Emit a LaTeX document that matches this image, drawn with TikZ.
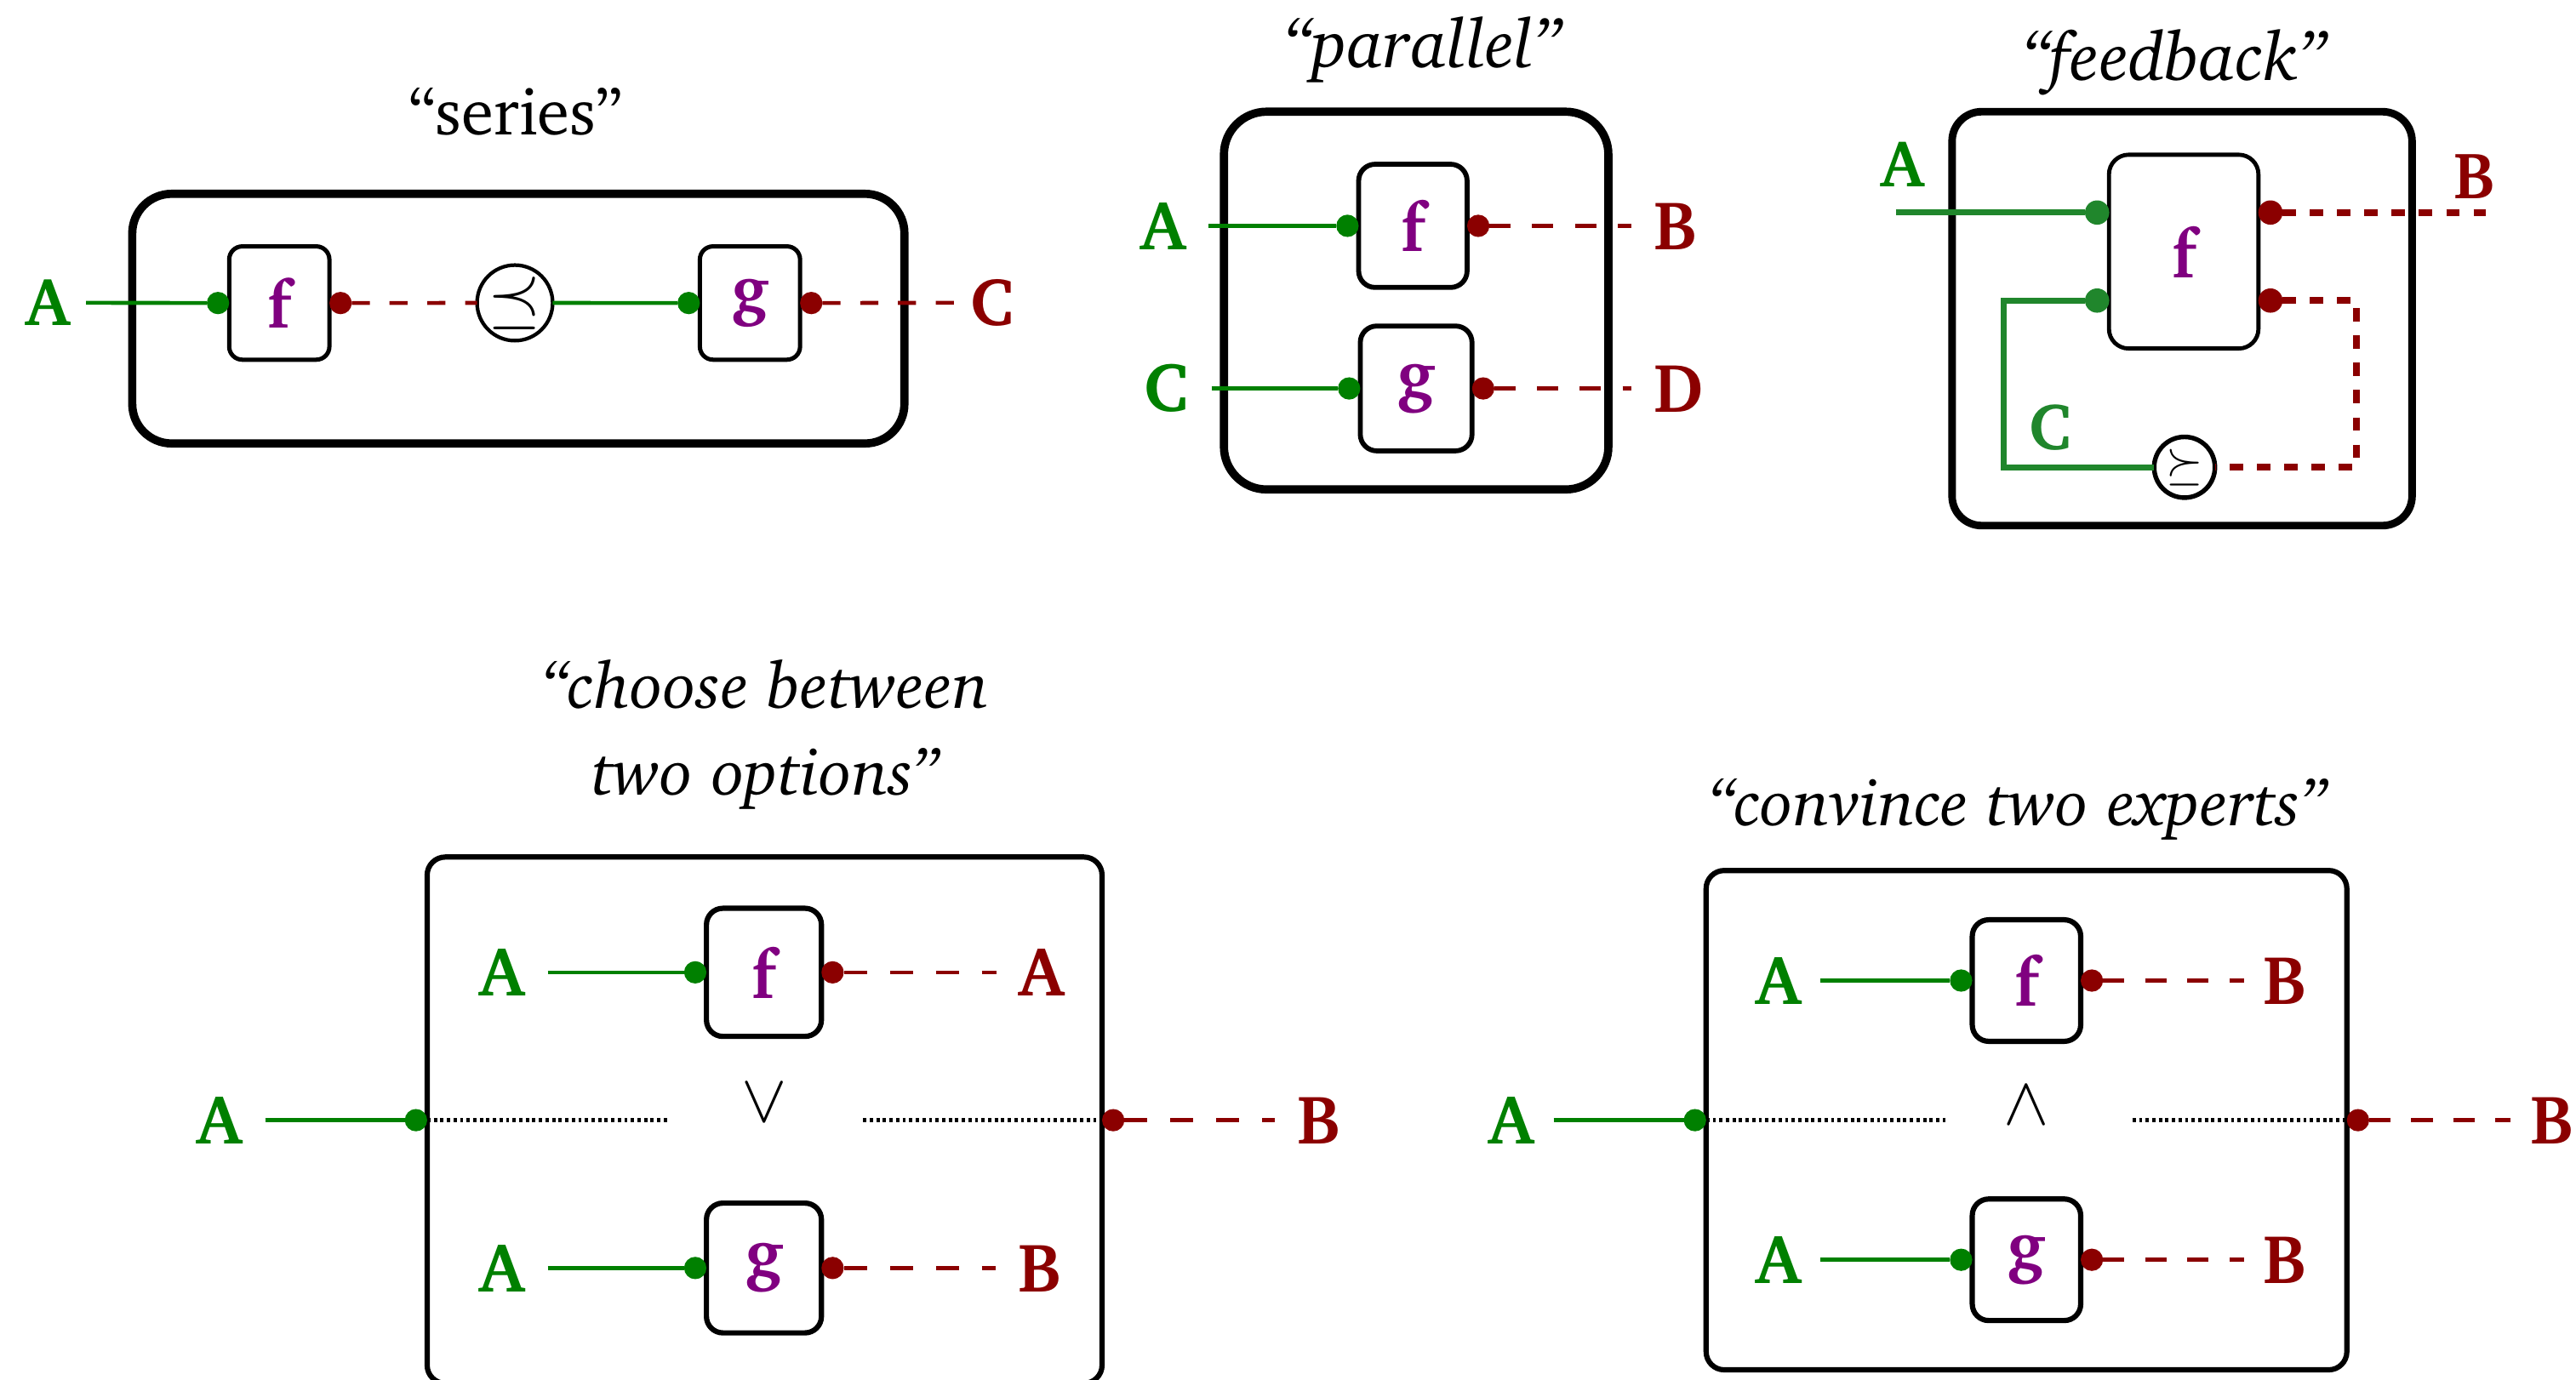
\documentclass[tikz,border=0pt]{standalone}
\usepackage[T1]{fontenc}
\usepackage{charter}
\usetikzlibrary{calc}

\definecolor{wgreen}{RGB}{0,128,0}
\definecolor{fgreen}{RGB}{32,134,44}
\definecolor{wred}{RGB}{139,0,0}
\definecolor{fpurple}{RGB}{128,0,128}

\tikzset{
  every node/.style={inner sep=0pt, outer sep=0pt},
  ttl/.style={font=\fontsize{20}{26.5}\selectfont\itshape},
  lab/.style={font=\fontsize{21}{25}\selectfont\bfseries, inner sep=5pt},
  glab/.style={lab, text=wgreen},
  rlab/.style={lab, text=wred},
  fnbox/.style={draw, line width=1.3pt, rounded corners=4pt, text=fpurple,
    font=\fontsize{21}{25}\selectfont\bfseries},
  outerbox/.style={draw, line width=2.5pt, rounded corners=12pt},
  gdot/.style={circle, fill=wgreen, minimum size=6.8pt},
  rdot/.style={circle, fill=wred, minimum size=6.8pt},
  gwire/.style={draw=wgreen, line width=1.2pt},
  rwire/.style={draw=wred, line width=1.2pt, dash pattern=on 5.5pt off 6pt},
  orwire/.style={draw=black, line width=1.2pt, dash pattern=on 1pt off 1pt},
  opcirc/.style={circle, draw, line width=1.1pt, inner sep=0pt},
}

\begin{document}
\begin{tikzpicture}[x=0.5pt, y=-0.5pt]
\useasboundingbox (0,0) rectangle (1568,840);

% ---------------- series ----------------
\node[font=\fontsize{20}{24}\selectfont] (St) at (314,68) {``series''};
\node[outerbox, minimum width=235pt, minimum height=76pt] (S) at (315.5,194) {};
\node[fnbox, minimum width=30.5pt, minimum height=34.5pt, font=\fontsize{20.5}{24}\selectfont\bfseries] (Sf) at (170,184.5) {f};
\node[fnbox, minimum width=30.5pt, minimum height=34.5pt, font=\fontsize{20.5}{24}\selectfont\bfseries] (Sg) at (456.5,184.5) {g};
\node[opcirc, minimum size=23pt, font=\fontsize{21}{21}\selectfont] (Sop) at (313.4,184.4) {$\preceq$};
\node[glab, font=\fontsize{20.5}{24}\selectfont\bfseries] (SA) at (29,184.3) {A};
\node[rlab, font=\fontsize{20.5}{24}\selectfont\bfseries] (SC) at (604,184.3) {C};
\node[gdot, anchor=east] (Sfi) at (Sf.west) {};
\node[rdot, anchor=west] (Sfo) at (Sf.east) {};
\node[gdot, anchor=east] (Sgi) at (Sg.west) {};
\node[rdot, anchor=west] (Sgo) at (Sg.east) {};
\draw[gwire] (SA) -- (Sfi);
\draw[rwire] (Sfo) -- (Sop);
\draw[gwire] (Sop) -- (Sgi);
\draw[rwire] (Sgo) -- (SC);

% ---------------- parallel ----------------
\begin{scope}[lab/.append style={inner sep=7pt},
  gwire/.append style={line width=1.5pt},
  rwire/.append style={line width=1.5pt, dash pattern=on 6.5pt off 6.5pt}]
\node[ttl, font=\fontsize{21}{26}\selectfont\itshape] (Pt) at (866,30) {``parallel''};
\node[outerbox, rounded corners=13pt, minimum width=117pt, minimum height=115pt] (P) at (862,183) {};
\node[fnbox, line width=1.5pt, rounded corners=5pt, minimum width=33pt, minimum height=37.5pt] (Pf) at (860,137.5) {f};
\node[fnbox, line width=1.5pt, rounded corners=5pt, minimum width=34pt, minimum height=38pt] (Pg) at (862,236.5) {g};
\node[glab] (PA) at (708,137.5) {A};
\node[glab] (PC) at (710,236.5) {C};
\node[rlab] (PB) at (1020,137.5) {B};
\node[rlab] (PD) at (1022,236.5) {D};
\node[gdot, anchor=east] (Pfi) at (Pf.west) {};
\node[rdot, anchor=west] (Pfo) at (Pf.east) {};
\node[gdot, anchor=east] (Pgi) at (Pg.west) {};
\node[rdot, anchor=west] (Pgo) at (Pg.east) {};
\draw[gwire] (PA) -- (Pfi);
\draw[rwire] (Pfo) -- (PB);
\draw[gwire] (PC) -- (Pgi);
\draw[rwire] (Pgo) -- (PD);
\end{scope}

% ---------------- feedback ----------------
\begin{scope}[gwire/.append style={draw=fgreen, line width=1.9pt},
  rwire/.append style={line width=2pt, dash pattern=on 4pt off 4.3pt},
  gdot/.append style={fill=fgreen, minimum size=7.4pt},
  rdot/.append style={minimum size=7.4pt}]
\node[ttl, font=\fontsize{21}{26}\selectfont\itshape] (Ft) at (1323.5,38) {``feedback''};
\node[outerbox, line width=2.3pt, rounded corners=9pt, minimum width=140pt, minimum height=126pt] (F) at (1328.2,194) {};
\node[fnbox, line width=1.25pt, rounded corners=6pt, minimum width=45.5pt, minimum height=59pt] (Ff) at (1329.2,153.2) {f};
\node[opcirc, line width=1.4pt, minimum size=18.5pt, font=\fontsize{14.5}{14.5}\selectfont] (Fop) at (1329.7,284.5) {$\succeq$};
\node[gdot] (Fi1) at (1276.5,129.4) {};
\node[gdot] (Fi2) at (1276.5,183) {};
\node[rdot] (Fo1) at (1382,129.4) {};
\node[rdot] (Fo2) at (1382,183) {};
\node[glab, font=\fontsize{20}{24}\selectfont\bfseries] (FA) at (1158,100) {A};
\node[rlab, font=\fontsize{20}{24}\selectfont\bfseries] (FB) at (1506,107) {B};
\node[glab, font=\fontsize{20}{24}\selectfont\bfseries, text=fgreen] (FC) at (1248,260) {C};
\coordinate (Fin) at (1154,129.4);
\coordinate (Fout) at (1513,129.4);
\coordinate (Fg1) at (1219.5,183);
\coordinate (Fg2) at (1219.5,284.5);
\coordinate (Fr1) at (1434.5,183);
\coordinate (Fr2) at (1434.5,284.5);
\draw[gwire] (Fin) -- (Fi1);
\draw[rwire] (Fo1) -- (Fout);
\draw[gwire] (Fi2) -- (Fg1) -- (Fg2) -- (Fop);
\draw[rwire] (Fo2) -- (Fr1) -- (Fr2) -- (Fop);
\end{scope}

% ---------------- choose between two options ----------------
\begin{scope}[lab/.append style={inner sep=7pt},
  rwire/.append style={dash pattern=on 7pt off 7pt}]
\node[ttl, align=center] (Ct) at (466,447) {``choose between\\two options''};
\node[draw, line width=1.6pt, rounded corners=5.5pt, minimum width=205.4pt, minimum height=160.2pt] (C) at (465.4,682) {};
\node[fnbox, line width=1.6pt, rounded corners=5pt, minimum width=35pt, minimum height=39pt] (Cf) at (465,592) {f};
\node[fnbox, line width=1.6pt, rounded corners=5pt, minimum width=35pt, minimum height=39.5pt] (Cg) at (465,772) {g};
\node[font=\fontsize{22}{22}\selectfont] (Cvee) at (465.3,671.5) {$\vee$};
\node[glab] (CA0) at (133.7,682) {A};
\node[rlab] (CB0) at (803,682) {B};
\node[glab] (CA1) at (305.7,592) {A};
\node[rlab] (CA2) at (634,592) {A};
\node[glab] (CA3) at (305.7,772) {A};
\node[rlab] (CB3) at (633,772) {B};
\node[gdot, anchor=east] (Cmi) at (C.west) {};
\node[rdot, anchor=west] (Cmo) at (C.east) {};
\node[gdot, anchor=east] (Cfi) at (Cf.west) {};
\node[rdot, anchor=west] (Cfo) at (Cf.east) {};
\node[gdot, anchor=east] (Cgi) at (Cg.west) {};
\node[rdot, anchor=west] (Cgo) at (Cg.east) {};
\coordinate (Cdl) at (406.6,682);
\coordinate (Cdr) at (525.4,682);
\draw[gwire] (CA0) -- (Cmi);
\draw[orwire] (Cmi) -- (Cdl);
\draw[orwire] (Cdr) -- (Cmo);
\draw[rwire] (Cmo) -- (CB0);
\draw[gwire] (CA1) -- (Cfi);
\draw[rwire] (Cfo) -- (CA2);
\draw[gwire] (CA3) -- (Cgi);
\draw[rwire] (Cgo) -- (CB3);
\end{scope}

% ---------------- convince two experts ----------------
\begin{scope}[lab/.append style={inner sep=6pt},
  rwire/.append style={dash pattern=on 6.5pt off 6.3pt}]
\node[ttl] (Kt) at (1228,493) {``convince two experts''};
\node[draw, line width=1.6pt, rounded corners=5.5pt, minimum width=195pt, minimum height=152pt] (K) at (1233.5,682) {};
\node[fnbox, line width=1.6pt, rounded corners=5pt, minimum width=33pt, minimum height=37pt] (Kf) at (1233.5,597) {f};
\node[fnbox, line width=1.6pt, rounded corners=5pt, minimum width=33pt, minimum height=37pt] (Kg) at (1233.5,767) {g};
\node[font=\fontsize{22}{22}\selectfont] (Kwedge) at (1233.5,672.8) {$\wedge$};
\node[glab] (KA0) at (920,682) {A};
\node[rlab] (KB0) at (1553.5,682) {B};
\node[glab] (KA1) at (1082.3,597) {A};
\node[rlab] (KB1) at (1391,597) {B};
\node[glab] (KA3) at (1082.3,767) {A};
\node[rlab] (KB3) at (1391,767) {B};
\node[gdot, anchor=east] (Kmi) at (K.west) {};
\node[rdot, anchor=west] (Kmo) at (K.east) {};
\node[gdot, anchor=east] (Kfi) at (Kf.west) {};
\node[rdot, anchor=west] (Kfo) at (Kf.east) {};
\node[gdot, anchor=east] (Kgi) at (Kg.west) {};
\node[rdot, anchor=west] (Kgo) at (Kg.east) {};
\coordinate (Kdl) at (1184.4,682);
\coordinate (Kdr) at (1298,682);
\draw[gwire] (KA0) -- (Kmi);
\draw[orwire] (Kmi) -- (Kdl);
\draw[orwire] (Kdr) -- (Kmo);
\draw[rwire] (Kmo) -- (KB0);
\draw[gwire] (KA1) -- (Kfi);
\draw[rwire] (Kfo) -- (KB1);
\draw[gwire] (KA3) -- (Kgi);
\draw[rwire] (Kgo) -- (KB3);
\end{scope}
\end{tikzpicture}
\end{document}
